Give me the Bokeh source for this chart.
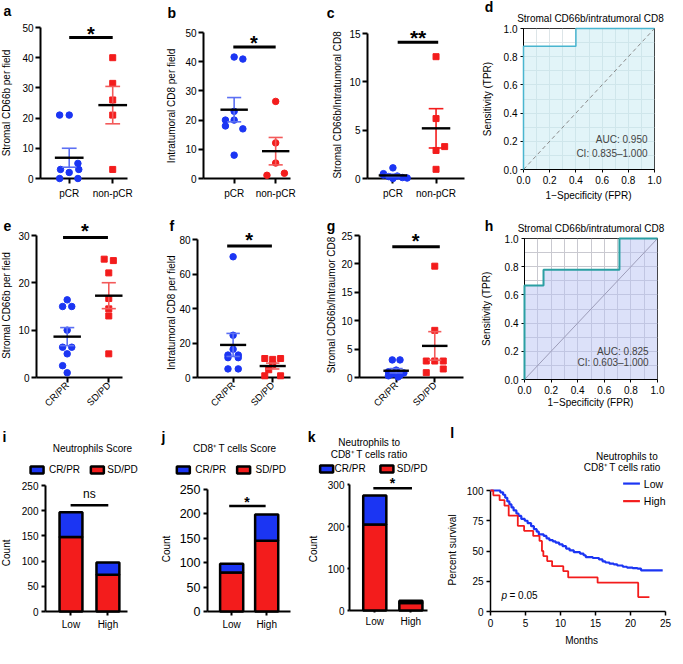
import math
import numpy as np
from bokeh.plotting import figure
from bokeh.models import (Label, Range1d, FixedTicker, ColumnDataSource, PrintfTickFormatter)
from bokeh.layouts import row, column
from bokeh.embed import file_html
from bokeh.resources import INLINE
from bokeh.core.properties import value

FONT = "Liberation Sans"
BLUE = "#1b35f3"
RED = "#f31c1c"
BLUE_E = "#5c70f3"
RED_E = "#f35a5a"

# ---------------- data ----------------
ab_cats = ["pCR", "non-pCR"]
efg_cats = ["CR/PR", "SD/PD"]
bar_cats = ["Low", "High"]

a_pcr = [21, 21, 5, 3, 3, 2, 0, 0]
a_pcr_jit = [-0.22, 0.0, 0.2, -0.2, 0.22, 0.0, -0.22, 0.2]
a_non = [40, 31.5, 26, 21, 3]
a_non_jit = [0, 0, 0, 0, 0]
a_yticks = [0, 10, 20, 30, 40, 50]

b_pcr = [41.6, 40.9, 23, 20, 20, 18, 17, 8]
b_pcr_jit = [0, 0.21, 0, -0.21, 0, -0.21, 0.21, 0]
b_non = [26.4, 12.2, 5.3, 1.1, 1.8]
b_non_jit = [0, 0, 0, -0.21, 0.21]
b_yticks = [0, 10, 20, 30, 40, 50]

c_pcr = [1.1, 0.5, 0.35, 0.25, 0.2, 0.1, 0.05, 0.0]
c_pcr_jit = [0, -0.22, -0.22, 0.1, -0.1, 0.22, 0.33, 0.0]
c_non = [12.6, 6.2, 3.3, 2.9, 0.95]
c_non_jit = [0, 0, 0.2, 0, 0]
c_yticks = [0, 5, 10, 15]

e_cr = [16.4, 15, 15, 10, 6.4, 6.4, 5, 2.5, 1]
e_cr_jit = [0, -0.11, 0.11, 0, -0.11, 0.11, 0, -0.11, 0]
e_sd = [25, 24.7, 22.1, 16.7, 14.5, 13, 5]
e_sd_jit = [-0.11, 0.11, 0, 0, 0, 0, 0]
e_yticks = [0, 10, 20, 30]

f_cr = [70, 24.5, 16.4, 13, 13, 11.5, 11.5, 5, 5]
f_cr_jit = [0, 0, 0, -0.13, 0.13, -0.13, 0.13, -0.13, 0.13]
f_sd = [11, 10.5, 11, 7.5, 4.5, 1, 1]
f_sd_jit = [-0.2, 0, 0.2, 0, -0.1, -0.2, 0.2]
f_yticks = [0, 20, 40, 60, 80]

g_cr = [3.1, 3.1, 1.3, 1.0, 0.8, 0.6, 0.4, 0.3, 0.1]
g_cr_jit = [-0.1, 0.1, 0, -0.2, 0.2, -0.1, 0.1, -0.2, 0.05]
g_sd = [19.6, 8.3, 2.9, 2.9, 2.9, 1.5, 0.85]
g_sd_jit = [0, 0, -0.22, 0, 0.22, 0.22, -0.22]
g_yticks = [0, 5, 10, 15, 20, 25]

d_fpr = [0, 0, 0.4, 0.4, 1.0]
d_tpr = [0, 0.875, 0.875, 1.0, 1.0]
h_fpr = [0, 0, 0.143, 0.143, 0.714, 0.714, 1.0]
h_tpr = [0, 0.667, 0.667, 0.778, 0.778, 1.0, 1.0]
roc_ticks = [0, 0.2, 0.4, 0.6, 0.8, 1.0]
roc_grid = [0, 0.1, 0.2, 0.3, 0.4, 0.5, 0.6, 0.7, 0.8, 0.9, 1.0]

i_crpr = [49, 24]
i_sdpd = [148, 73]
j_crpr = [18, 54]
j_sdpd = [80, 145]
k_crpr = [69, 5]
k_sdpd = [205, 18]
ij_yticks = [0, 50, 100, 150, 200, 250]
k_yticks = [0, 100, 200, 300]

low_t = [0, 1.4, 1.8, 2.1, 2.4, 2.7, 3.0, 3.3, 3.7, 4.0, 4.4, 4.9, 5.3, 5.8, 6.2,
         6.6, 6.9, 7.6, 8.0, 8.4, 8.9, 9.3, 9.8, 10.3, 10.8, 11.3, 11.9, 12.8, 13.3,
         13.6, 14.6, 15.5, 16.0, 16.4, 17.0, 17.6, 18.1, 18.9, 19.5, 20.3, 21.0, 21.5, 24.6]
low_s = [100, 98.5, 96.5, 94, 91, 88.5, 86, 83.5, 81, 79, 76.5, 75, 73, 70.5, 68,
         66, 63.7, 62.5, 60.5, 59, 58, 57, 55.5, 54, 52, 50.5, 49, 47.8, 46.5,
         45, 44.2, 43, 41.5, 40.5, 39.5, 39, 38, 37, 36.3, 35.8, 35.5, 34, 34]
high_t = [0, 0.4, 1.3, 2.0, 2.6, 3.9, 4.8, 6.1, 7.0, 7.35, 7.55, 8.1, 8.8, 10.4,
          11.1, 15.3, 21.1, 22.7]
high_s = [100, 96, 92, 87.5, 79.2, 70.8, 66.7, 62.5, 58.3, 50, 45.8, 41.7, 37.5,
          33.3, 28.2, 23.8, 11.9, 11.9]
l_xticks = [0, 5, 10, 15, 20, 25]
l_yticks = [0, 25, 50, 75, 100]

# ---------------- layout geometry (reference px -> page px) ----------------
SX = 675 / 683
SY = 648 / 664


def X(v):
    return v * SX


def Y(v):
    return v * SY


def geom(box, frame):
    x0, x1, y0, y1 = [int(round(X(box[0]))), int(round(X(box[1]))),
                      int(round(Y(box[2]))), int(round(Y(box[3])))]
    F = (int(round(X(frame[0]))), int(round(X(frame[1]))),
         int(round(Y(frame[2]))), int(round(Y(frame[3]))))
    return (x0, x1, y0, y1), F


def make_fig(box_ref, frame_ref, xr, yr):
    (x0, x1, y0, y1), F = geom(box_ref, frame_ref)
    fl, fr, ft, fb = F
    p = figure(width=x1 - x0, height=y1 - y0,
               x_range=Range1d(xr[0], xr[1]), y_range=Range1d(yr[0], yr[1]),
               output_backend="svg", toolbar_location=None,
               min_border_left=fl - x0, min_border_right=x1 - fr,
               min_border_top=ft - y0, min_border_bottom=y1 - fb,
               frame_align=False)
    p.outline_line_color = None
    p.xgrid.visible = False
    p.ygrid.visible = False
    p.background_fill_color = "white"
    p.border_fill_color = "white"
    return dict(p=p, F=F, xr=xr, yr=yr)


def to_data(P, rx, ry):
    fl, fr, ft, fb = P["F"]
    px, py = X(rx), Y(ry)
    xr, yr = P["xr"], P["yr"]
    xd = xr[0] + (px - fl) / (fr - fl) * (xr[1] - xr[0])
    yd = yr[0] + (fb - py) / (fb - ft) * (yr[1] - yr[0])
    return xd, yd


def T(P, rx, ry, text, size=10, align="center", baseline="middle", angle=0.0,
      style="normal", color="black"):
    xd, yd = to_data(P, rx, ry)
    P["p"].text(x=[xd], y=[yd], text=[text], text_font=value(FONT),
                text_font_size=value(f"{size}px"), text_align=value(align),
                text_baseline=value(baseline), angle=angle,
                text_font_style=value(style), text_color=color, level="overlay")


def letter(P, rx, ry, t):
    # ry is the reference baseline
    T(P, rx, ry - 5, t, size=14, align="left", style="bold")


def ylab(P, rx, ry, t, size=10):
    T(P, rx, ry, t, size=size, angle=math.pi / 2)


def star(P, rx, ry, t="*", size=20):
    # ry is the visual centre of the asterisk
    T(P, rx, ry + 0.2 * size, t, size=size, style="bold")


def style_axes(p, lw, tick_out, size, standoff):
    for ax in (p.xaxis[0], p.yaxis[0]):
        ax.axis_line_width = lw
        ax.axis_line_color = "black"
        ax.major_tick_line_width = lw
        ax.major_tick_line_color = "black"
        ax.major_tick_out = tick_out
        ax.major_tick_in = 0
        ax.minor_tick_line_color = None
        ax.major_label_text_font = FONT
        ax.major_label_text_font_size = f"{size}px"
        ax.major_label_text_color = "black"
        ax.major_label_standoff = standoff


def dot_panel(box, frame, xr, yr, yticks, cats, groups, sig, rotate=False):
    P = make_fig(box, frame, xr, yr)
    p = P["p"]
    style_axes(p, 2, 5, 10, 2)
    p.yaxis.ticker = FixedTicker(ticks=yticks)
    p.xaxis.ticker = FixedTicker(ticks=[1, 2])
    p.xaxis.major_label_overrides = {1: cats[0], 2: cats[1]}
    if rotate:
        p.xaxis.major_label_orientation = math.pi / 4
        p.xaxis.major_label_text_font_size = "9.5px"
        p.xaxis.major_label_standoff = 1
    else:
        p.xaxis.major_label_standoff = 4
    for k, (vals, jit, color, marker, size, ecolor) in enumerate(groups):
        xc = k + 1
        xs = [xc + j for j in jit]
        p.scatter(xs, vals, marker=marker, size=size, color=color, level="overlay")
        m = float(np.mean(vals))
        se = float(np.std(vals, ddof=1) / np.sqrt(len(vals)))
        p.segment([xc], [m - se], [xc], [m + se], line_color=ecolor, line_width=1.6,
                  level="overlay")
        p.segment([xc - 0.17, xc - 0.17], [m - se, m + se], [xc + 0.17, xc + 0.17],
                  [m - se, m + se], line_color=ecolor, line_width=1.6, level="overlay")
        p.segment([xc - 0.33], [m], [xc + 0.33], [m], line_color="black",
                  line_width=2.4, level="overlay")
    sx0, sx1, sy = sig
    p.segment([sx0], [sy], [sx1], [sy], line_color="black", line_width=3, level="overlay")
    return P


def roc_panel(box, frame, fpr, tpr, fill, falpha, lcolor, lw, dcolor, ddash, gcolor,
              auc, ci, auc_x, auc_y, ci_y):
    P = make_fig(box, frame, (0, 1), (0, 1))
    p = P["p"]
    style_axes(p, 1, 3, 10, 3)
    p.outline_line_color = "#333333"
    p.outline_line_width = 1
    p.xaxis.ticker = FixedTicker(ticks=roc_ticks)
    p.yaxis.ticker = FixedTicker(ticks=roc_ticks)
    p.xaxis.formatter = PrintfTickFormatter(format="%.1f")
    p.yaxis.formatter = PrintfTickFormatter(format="%.1f")
    for g in (p.xgrid[0], p.ygrid[0]):
        g.visible = True
        g.ticker = FixedTicker(ticks=roc_grid)
        g.grid_line_color = gcolor
        g.grid_line_width = 1
    p.patch(list(fpr) + [1.0], list(tpr) + [0.0], fill_color=fill, fill_alpha=falpha,
            line_color=None)
    p.line([0, 1], [0, 1], line_color=dcolor, line_width=1, line_dash=ddash)
    p.line(fpr, tpr, line_color=lcolor, line_width=lw, level="overlay")
    for t, yy in ((auc, auc_y), (ci, ci_y)):
        p.add_layout(Label(x=auc_x, y=yy, text=t, text_font=FONT, text_font_size="10px",
                           text_align="right", text_baseline="middle"))
    return P


def bar_panel(box, frame, xr, yr, yticks, crpr, sdpd, width, size, tick_out, leg, sig):
    P = make_fig(box, frame, xr, yr)
    p = P["p"]
    style_axes(p, 2, tick_out, size, 3)
    p.xaxis.major_label_text_font_size = "10px"
    p.yaxis.ticker = FixedTicker(ticks=yticks)
    p.xaxis.ticker = FixedTicker(ticks=[1, 2])
    p.xaxis.major_label_overrides = {1: bar_cats[0], 2: bar_cats[1]}
    src = ColumnDataSource(dict(x=[1, 2], sd=sdpd, cr=crpr))
    rs = p.vbar_stack(["sd", "cr"], x="x", width=width, fill_color=[RED, BLUE],
                      line_color="black", line_width=2.5, source=src)
    for r in rs:
        r.level = "overlay"
    # legend drawn as marks + texts (reference px positions)
    gx1, tx1, gx2, tx2, cy = leg
    for gx, tx, col, lab in ((gx1, tx1, BLUE, "CR/PR"), (gx2, tx2, RED, "SD/PD")):
        xd, yd = to_data(P, gx + 7, cy)
        p.rect(x=[xd], y=[yd], width=13, height=7, width_units="screen",
               height_units="screen", fill_color=col, line_color="black",
               line_width=2.5, level="overlay")
        T(P, tx, cy, lab, size=10, align="left")
    sx0, sx1, sy = sig
    p.segment([sx0], [sy], [sx1], [sy], line_color="black", line_width=2.5, level="overlay")
    return P


# ---------------- row 1 ----------------
A = dot_panel((0, 160, 0, 213), (40, 128, 28, 182), (0.34, 2.34), (0, 50), a_yticks, ab_cats,
              [(a_pcr, a_pcr_jit, BLUE, "circle", 6.5, BLUE_E),
               (a_non, a_non_jit, RED, "square", 6, RED_E)], (1.0, 2.0, 46.7))
letter(A, 3, 16, "a")
ylab(A, 6, 105, "Stromal CD66b per field")
star(A, 91.5, 30)

B = dot_panel((160, 322, 0, 213), (205, 293, 33, 182), (0.262, 2.357), (0, 50), b_yticks,
              ab_cats, [(b_pcr, b_pcr_jit, BLUE, "circle", 6.5, BLUE_E),
                        (b_non, b_non_jit, RED, "circle", 6.5, RED_E)], (0.98, 2.0, 45))
letter(B, 169, 18, "b")
ylab(B, 173, 108, "Intratumoral CD8 per field")
star(B, 256.5, 40)

C = dot_panel((322, 480, 0, 213), (371, 470, 34, 182), (0.41, 2.66), (0, 15), c_yticks,
              ab_cats, [(c_pcr, c_pcr_jit, BLUE, "circle", 6.5, BLUE_E),
                        (c_non, c_non_jit, RED, "square", 6, RED)], (1.11, 2.05, 14.1))
letter(C, 330, 18, "c")
ylab(C, 341, 107, "Stromal CD66b/Intratumoral CD8")
star(C, 422.5, 34, "**", 21)

D = roc_panel((480, 683, 0, 213), (529, 662, 29, 173), d_fpr, d_tpr, "#bfe6ef", 0.45,
              "#49b5cf", 1.5, "#8a8a8a", "4 3", "#dde5e8", "AUC: 0.950",
              "CI: 0.835\u20131.000", 0.947, 0.215, 0.111)
letter(D, 490, 12, "d")
T(D, 597, 18, "Stromal CD66b/intratumoral CD8")
ylab(D, 493, 101, "Sensitivity (TPR)")
T(D, 595, 200, "1\u2212Specificity (FPR)")

# ---------------- row 2 ----------------
E = dot_panel((0, 155, 213, 425), (36, 123, 241, 387), (0.262, 2.33), (0, 30), e_yticks,
              efg_cats, [(e_cr, e_cr_jit, BLUE, "circle", 6.5, BLUE_E),
                         (e_sd, e_sd_jit, RED, "square", 6, RED_E)], (0.9, 1.98, 29.6),
              rotate=True)
letter(E, 3, 236, "e")
ylab(E, 6, 313, "Stromal CD66b per field")
star(E, 85.5, 232)

Fp = dot_panel((155, 320, 213, 425), (199, 293, 245, 388), (0.1, 2.45), (0, 80), f_yticks,
               efg_cats, [(f_cr, f_cr_jit, BLUE, "circle", 6.5, BLUE_E),
                          (f_sd, f_sd_jit, RED, "square", 6, RED_E)], (0.85, 1.98, 76.2),
               rotate=True)
letter(Fp, 171, 236, "f")
ylab(Fp, 173, 321, "Intratumoral CD8 per field")
star(Fp, 251.5, 241)

G = dot_panel((320, 478, 213, 425), (363, 468, 241, 388), (0.051, 2.744), (0, 25), g_yticks,
              efg_cats, [(g_cr, g_cr_jit, BLUE, "circle", 6.5, BLUE_E),
                         (g_sd, g_sd_jit, RED, "square", 6, RED_E)], (0.9, 2.13, 23),
              rotate=True)
letter(G, 330, 236, "g")
ylab(G, 335, 313, "Stromal CD66b/Intraumor CD8")
star(G, 420, 243)

H = roc_panel((478, 683, 213, 425), (530, 665, 244, 388), h_fpr, h_tpr, "#b9c3f3", 0.5,
              "#2b9fa3", 2, "#9c9cb8", "solid", "#c9c9d0", "AUC: 0.825",
              "CI: 0.603\u20131.000", 0.933, 0.2, 0.118)
letter(H, 490, 236, "h")
T(H, 597.5, 234, "Stromal CD66b/intratumoral CD8")
ylab(H, 492, 316, "Sensitivity (TPR)")
T(H, 597, 412, "1\u2212Specificity (FPR)")

# ---------------- row 3 ----------------
I = bar_panel((0, 160, 425, 664), (46, 128, 497, 626), (0.31, 2.53), (0, 250), ij_yticks,
              i_crpr, i_sdpd, 0.62, 10, 4, (30, 49, 91, 108, 481), (0.99, 2.01, 211))
letter(I, 2, 452, "i")
T(I, 93, 459, "Neutrophils Score")
ylab(I, 6, 566, "Count")
T(I, 90, 506, "ns", size=12)

J = bar_panel((160, 305, 425, 664), (209, 293, 501, 626), (0.31, 2.68), (0, 250), ij_yticks,
              j_crpr, j_sdpd, 0.66, 12.5, 4, (178, 197, 239, 258, 481), (0.93, 1.97, 216))
letter(J, 163, 452, "j")
T(J, 237, 459, "CD8\u207a T cells Score")
ylab(J, 168, 562, "Count")
star(J, 249.5, 511, "*", 14)

K = bar_panel((305, 450, 425, 664), (353, 432, 496, 625), (0.30, 2.46), (0, 300), k_yticks,
              k_crpr, k_sdpd, 0.64, 10, 2, (323, 338, 384, 401, 480), (0.96, 2.03, 291))
letter(K, 311, 452, "k")
T(K, 373, 453, "Neutrophils to")
T(K, 373, 465, "CD8\u207a T cells ratio")
ylab(K, 317, 562, "Count")
star(K, 396.5, 492, "*", 14)

L = make_fig((450, 683, 425, 664), (496, 673, 502, 626), (0, 25), (0, 100))
pl = L["p"]
style_axes(pl, 1.5, 4, 10, 3)
pl.xaxis.ticker = FixedTicker(ticks=l_xticks)
pl.yaxis.ticker = FixedTicker(ticks=l_yticks)
pl.step(low_t, low_s, mode="after", line_color=BLUE, line_width=2.2, level="overlay")
pl.step(high_t, high_s, mode="after", line_color=RED, line_width=1.8, level="overlay")
for yy, col, lab in ((495, BLUE, "Low"), (513, RED, "High")):
    x0d, y0d = to_data(L, 630, yy)
    x1d, _ = to_data(L, 647, yy)
    pl.segment([x0d], [y0d], [x1d], [y0d], line_color=col, line_width=2.2, level="overlay")
    T(L, 651, yy, lab, size=10.5, align="left")
letter(L, 455, 448, "l")
T(L, 665, 467, "Neutrophils to", align="right")
T(L, 668, 479, "CD8\u207a T cells ratio", align="right")
ylab(L, 457, 563, "Percent survival")
T(L, 588, 656, "Months")
T(L, 507, 610, "p", align="left", style="italic")
T(L, 515, 610, "= 0.05", align="left")

layout = column(row(A["p"], B["p"], C["p"], D["p"], spacing=0),
                row(E["p"], Fp["p"], G["p"], H["p"], spacing=0),
                row(I["p"], J["p"], K["p"], L["p"], spacing=0), spacing=0)

open("out.html", "w").write(file_html(layout, INLINE))
